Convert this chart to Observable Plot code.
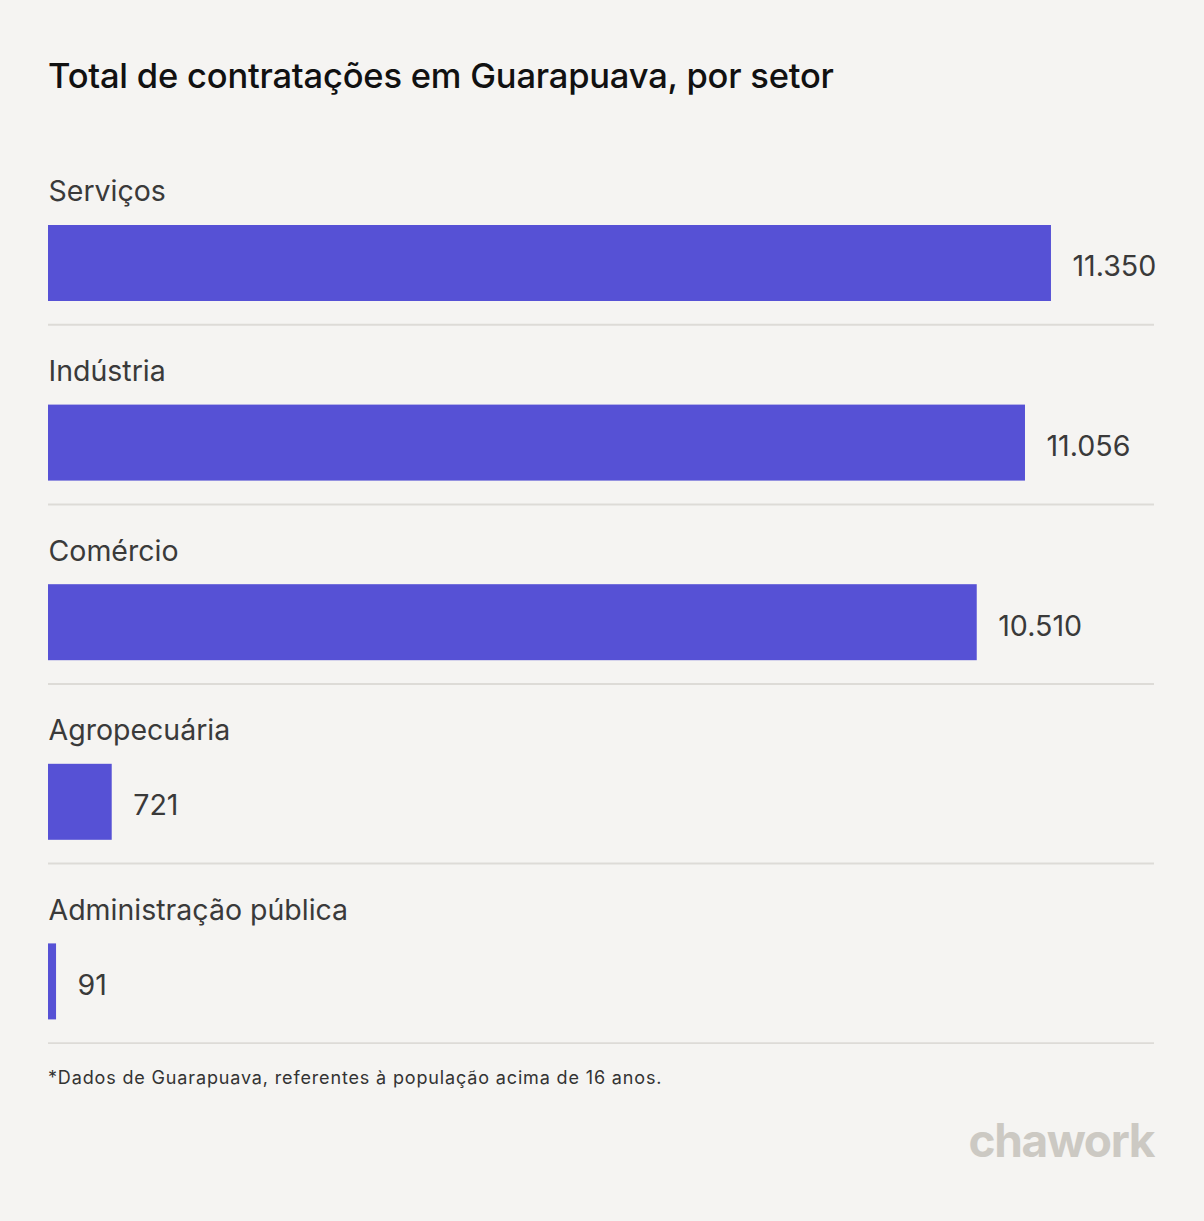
<!DOCTYPE html>
<html><head><meta charset="utf-8">
<script src="https://cdn.jsdelivr.net/npm/d3@7"></script>
<script src="https://cdn.jsdelivr.net/npm/@observablehq/plot@0.6"></script>
<style>
html,body{margin:0;padding:0;background:#f5f4f2;}
#wrap{position:relative;width:1204px;height:1221px;background:#f5f4f2;font-family:Inter,"Noto Sans",sans-serif;overflow:hidden;}
#title{position:absolute;left:48px;top:55px;font-size:34.5px;font-weight:500;color:#111;letter-spacing:-0.2px;white-space:nowrap;}
#chart{position:absolute;left:0;top:138px;}
#note{position:absolute;left:48px;top:1067px;font-size:18px;letter-spacing:0.85px;color:#333;white-space:nowrap;}
#logo{position:absolute;right:50px;top:1112px;font-size:46px;font-weight:700;color:#ccc9c3;letter-spacing:-1.4px;white-space:nowrap;}
</style></head>
<body><div id="wrap">
<div id="title">Total de contratações em Guarapuava, por setor</div>
<div id="chart"></div>
<div id="note">*Dados de Guarapuava, referentes à população acima de 16 anos.</div>
<div id="logo">chawork</div>
</div>
<script>
const categories = ["Serviços", "Indústria", "Comércio", "Agropecuária", "Administração pública"];
const values = [11350, 11056, 10510, 721, 91];

const data = categories.map((c, i) => ({sector: c, value: values[i]}));
const fmt = d3.formatLocale({decimal: ",", thousands: ".", grouping: [3], currency: ["R$", ""]}).format(",d");

const chart = Plot.plot({
  width: 1204,
  height: 906,
  marginLeft: 48,
  marginRight: 50,
  marginTop: 6.5,
  marginBottom: 1.5,
  style: {background: "transparent", fontFamily: "Inter, 'Noto Sans', sans-serif"},
  x: {domain: [0, 12516], axis: null},
  y: {domain: categories, padding: 0, round: false, axis: null},
  marks: [
    Plot.ruleY(data, {y: "sector", dy: 90, stroke: "#dddbd7", strokeWidth: 2}),
    Plot.barX(data, {x: "value", y: "sector", fill: "#5651d5", insetTop: 80.5, insetBottom: 23.1}),
    Plot.text(data, {x: 0, y: "sector", text: "sector", textAnchor: "start", dy: -42.5, fontSize: 28.5, fill: "#3a3a3a"}),
    Plot.text(data, {x: "value", y: "sector", text: d => fmt(d.value), textAnchor: "start", dx: 21, dy: 32.5, fontSize: 28.6, fill: "#3a3a3a"})
  ]
});
document.getElementById("chart").appendChild(chart);
</script>
</body></html>
